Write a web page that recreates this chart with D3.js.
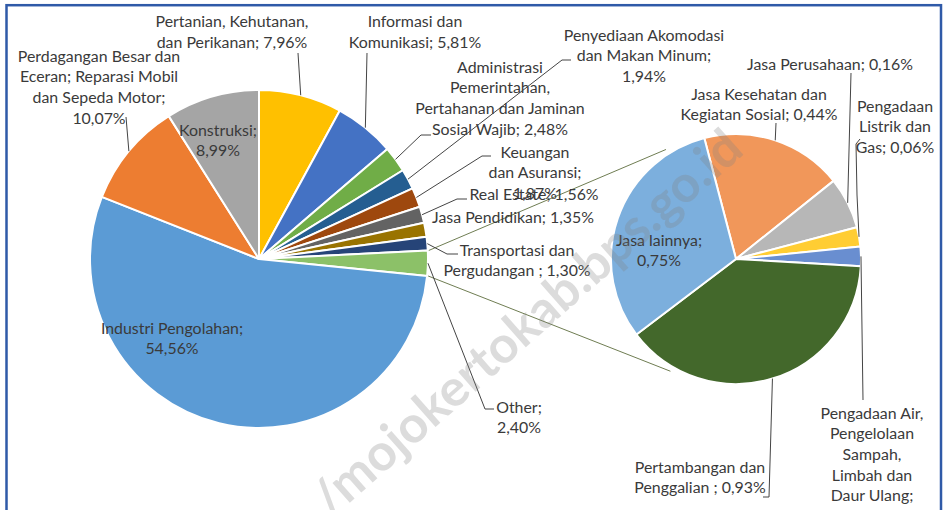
<!DOCTYPE html>
<html><head><meta charset="utf-8">
<script src="https://cdn.jsdelivr.net/npm/d3@7"></script>
<style>
html,body{margin:0;padding:0;background:#fff;overflow:hidden;}
svg{display:block;}
</style></head><body>
<svg id="chart" width="945" height="510"></svg>
<script>
// ---------- DATA ----------
const mainCategories = [
  "Pertanian, Kehutanan, dan Perikanan",
  "Informasi dan Komunikasi",
  "Administrasi Pemerintahan, Pertahanan dan Jaminan Sosial Wajib",
  "Penyediaan Akomodasi dan Makan Minum",
  "Keuangan dan Asuransi",
  "Real Estate",
  "Jasa Pendidikan",
  "Transportasi dan Pergudangan ",
  "Other",
  "Industri Pengolahan",
  "Perdagangan Besar dan Eceran; Reparasi Mobil dan Sepeda Motor",
  "Konstruksi"
];
const mainValues = [7.96, 5.81, 2.48, 1.94, 1.87, 1.56, 1.35, 1.30, 2.40, 54.56, 10.07, 8.99];
const mainColors = ["#FFC000", "#4472C4", "#70AD47", "#255E91", "#9E480E", "#636363",
                    "#997300", "#264478", "#8CC168", "#5B9BD5", "#ED7D31", "#A5A5A5"];

const secondCategories = [
  "Jasa Kesehatan dan Kegiatan Sosial",
  "Jasa Perusahaan",
  "Pengadaan Listrik dan Gas",
  "Pengadaan Air, Pengelolaan Sampah, Limbah dan Daur Ulang",
  "Pertambangan dan Penggalian ",
  "Jasa lainnya"
];
const secondValues = [0.44, 0.16, 0.06, 0.06, 0.93, 0.75];
const secondColors = ["#F1975A", "#B7B7B7", "#FFCD33", "#698ED0", "#43682B", "#7CAFDD"];

const watermarkText = "/mojokertokab.bps.go.id";

// ---------- LAYOUT ----------
const C1 = [259, 259], R1 = 169;
const C2 = [736, 259], R2 = 125;
const deg = Math.PI / 180;
const secondStart = -14.7 * deg;
const LH = 20.7;

// words per line, label centre x, first line centre y, leader points (label side)
const mainLabels = [
  {words:[2,3], x:232, y:20.5, lead:[[298,53]]},
  {words:[2,2], x:415, y:20.5, lead:[[367,53]]},
  {words:[1,1,3,3], x:500, y:66, lead:[[431,135],[421,135]]},
  {words:[2,3,1], x:644, y:34, lead:[[571,60],[562,60]]},
  {words:[1,2,1], x:535, y:151, lead:[[491,156],[482,156]]},
  {words:[3], x:534, y:193, lead:[[467,199],[457,199]]},
  {words:[3], x:513, y:216, lead:null},
  {words:[2,3], x:517, y:249, lead:[[458,254],[447,254]]},
  {words:[1,1], x:519, y:406, lead:[[494,409],[485,409]]},
  {words:[2,1], x:172, y:327, lead:null},
  {words:[3,3,3,1], x:99, y:55, lead:[[126,117]]},
  {words:[1,1], x:218, y:129, lead:null}
];
const secondLabels = [
  {words:[3,3], x:759, y:93, lead:[[776,123]]},
  {words:[3], x:830, y:63, lead:[[851,73]]},
  {words:[1,2,2], x:895, y:105, lead:[[860,139],[856,144],[857,195]]},
  {words:[2,1,1,2,2,1], x:872, y:412, lead:[[863,400]]},
  {words:[2,3], x:700, y:466, lead:[[763,497],[769,497]]},
  {words:[2,1], x:659, y:239, lead:null}
];

const fmtPct = v => d3.format(".2f")(v).replace(".", ",") + "%";
function splitLines(text, counts){
  const w = text.split(" ");
  const out = []; let k = 0;
  counts.forEach(c => { out.push(w.slice(k, k + c).join(" ")); k += c; });
  if (k < w.length) out[out.length-1] += " " + w.slice(k).join(" ");
  return out;
}
const pt = (c, r, a) => [c[0] + r * Math.sin(a), c[1] - r * Math.cos(a)];

const svg = d3.select("#chart");
const FONT = "Lato, 'Open Sans', sans-serif";
const TXT = "#3a3a3a";

// measure font size so that text widths resemble the reference
const probe = svg.append("text").attr("font-family", FONT).attr("font-size", 16).text("Pertanian, Kehutanan,");
const FS = 16 * 153 / probe.node().getComputedTextLength();
probe.remove();

// ---------- MAIN PIE ----------
const mainPie = d3.pie().sort(null).value(d => d).startAngle(0).endAngle(2 * Math.PI);
const mainArcs = mainPie(mainValues);
const arc1 = d3.arc().innerRadius(0).outerRadius(R1);
svg.append("g").attr("transform", `translate(${C1})`)
  .selectAll("path").data(mainArcs).join("path")
  .attr("d", arc1).attr("fill", (d, i) => mainColors[i])
  .attr("stroke", "#fff").attr("stroke-width", 2).attr("stroke-linejoin", "round");

// ---------- SECOND PIE ----------
const secondPie = d3.pie().sort(null).value(d => d).startAngle(secondStart).endAngle(secondStart + 2 * Math.PI);
const secondArcs = secondPie(secondValues);
const arc2 = d3.arc().innerRadius(0).outerRadius(R2);
svg.append("g").attr("transform", `translate(${C2})`)
  .selectAll("path").data(secondArcs).join("path")
  .attr("d", arc2).attr("fill", (d, i) => secondColors[i])
  .attr("stroke", "#fff").attr("stroke-width", 2).attr("stroke-linejoin", "round");

// ---------- SERIES LINES ----------
const other = mainArcs[mainCategories.indexOf("Other")];
const conn = [
  [pt(C1, R1 + 1, other.startAngle), pt(C2, R2 + 5, -32.6 * deg)],
  [pt(C1, R1 + 1, other.endAngle), pt(C2, R2 + 5, 210.3 * deg)]
];
svg.append("g").selectAll("line").data(conn).join("line")
  .attr("x1", d => d[0][0]).attr("y1", d => d[0][1])
  .attr("x2", d => d[1][0]).attr("y2", d => d[1][1])
  .attr("stroke", "#6f7d52").attr("stroke-width", 1);

// ---------- LEADERS & LABELS ----------
function drawLabels(arcs, cats, layout, C, R){
  const g = svg.append("g");
  arcs.forEach((a, i) => {
    const L = layout[i];
    if (L.lead){
      const mid = (a.startAngle + a.endAngle) / 2;
      const pts = L.lead.concat([pt(C, R, mid)]);
      g.append("path").attr("d", d3.line()(pts)).attr("fill", "none")
        .attr("stroke", "#444").attr("stroke-width", 1);
    }
    const lines = splitLines(cats[i] + "; " + fmtPct(a.data), L.words);
    const t = g.append("text").attr("font-family", FONT).attr("font-size", FS)
      .attr("fill", TXT).attr("text-anchor", "middle");
    lines.forEach((s, k) => t.append("tspan").attr("x", L.x).attr("y", L.y + k * LH)
      .attr("dominant-baseline", "central").text(s));
  });
}
drawLabels(mainArcs, mainCategories, mainLabels, C1, R1);
drawLabels(secondArcs, secondCategories, secondLabels, C2, R2);

// ---------- WATERMARK ----------
const wmStart = [318, 505], wmEnd = [733, 138];
const wmAngle = Math.atan2(wmEnd[1] - wmStart[1], wmEnd[0] - wmStart[0]) / deg;
const wmLen = Math.hypot(wmEnd[0] - wmStart[0], wmEnd[1] - wmStart[1]);
const wm = svg.append("text").attr("font-family", FONT).attr("font-weight", 700)
  .attr("font-size", 40).attr("fill", "#808080").attr("fill-opacity", 0.28)
  .attr("transform", `translate(${wmStart}) rotate(${wmAngle})`)
  .attr("dominant-baseline", "central").text(watermarkText);
wm.attr("font-size", 40 * wmLen / wm.node().getComputedTextLength());

// ---------- FRAME ----------
svg.append("rect").attr("x", 6.5).attr("y", 5.2).attr("width", 934.5).attr("height", 530)
  .attr("fill", "none").attr("stroke", "#2f5aa8").attr("stroke-width", 2.5);
</script>
</body></html>
